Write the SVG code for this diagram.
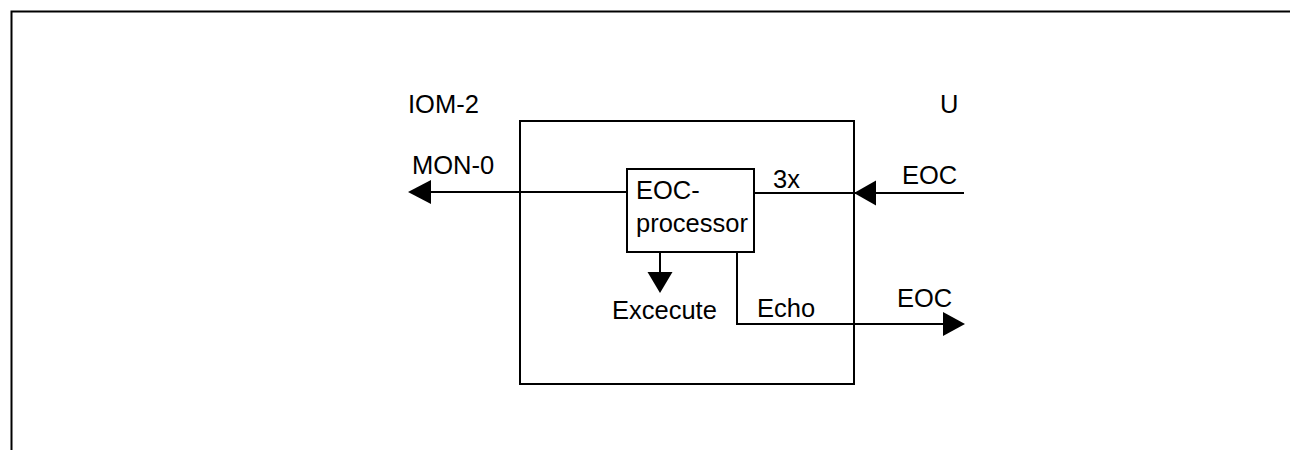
<svg xmlns="http://www.w3.org/2000/svg" width="1290" height="450" viewBox="0 0 1290 450">
<style>
.ln{stroke:#000;stroke-width:2;fill:none}
.bx{stroke:#000;stroke-width:2;fill:#fff}
.t{font-family:"Liberation Sans",Arial,sans-serif;font-size:25.5px;fill:#000}
.ah{fill:#000;stroke:none}
</style>
<rect width="1290" height="450" fill="#fff"/>
<g id="frame"><path class="ln" d="M11.5,451 V11.5 H1291" stroke-width="2.5"/></g>
<g id="iom-box"><rect class="bx" x="520" y="121" width="334" height="263"/></g>
<g id="connectors">
<path class="ln" d="M627,192 H428"/>
<polygon class="ah" points="408,192 431,180 431,204"/>
<path class="ln" d="M754,193 H964"/>
<polygon class="ah" points="854,193 876,180.5 876,205.5"/>
<path class="ln" d="M737,252 V324 H945"/>
<polygon class="ah" points="965,324 943,312 943,336"/>
<path class="ln" d="M660,252 V273"/>
<polygon class="ah" points="660,293 647.5,272 672.5,272"/>
</g>
<g id="eoc-processor"><rect class="bx" x="627" y="169" width="127" height="83"/>
<text class="t" x="636" y="199">EOC-</text>
<text class="t" x="636" y="232">processor</text></g>
<g id="labels">
<text class="t" x="408" y="113">IOM-2</text>
<text class="t" x="940" y="113">U</text>
<text class="t" x="412" y="174">MON-0</text>
<text class="t" x="773" y="188">3x</text>
<text class="t" x="902" y="184">EOC</text>
<text class="t" x="757" y="317">Echo</text>
<text class="t" x="897" y="307">EOC</text>
<text class="t" x="612" y="319">Excecute</text>
</g>
</svg>
